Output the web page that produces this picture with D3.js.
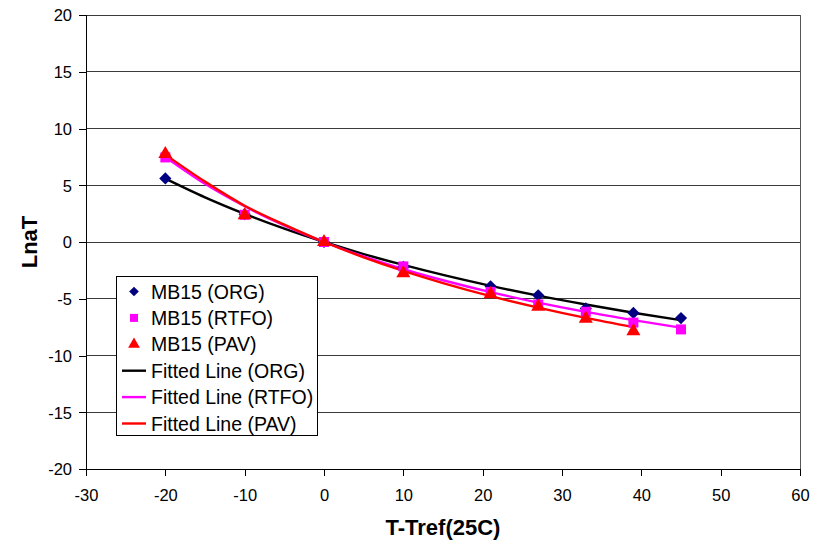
<!DOCTYPE html>
<html>
<head>
<meta charset="utf-8">
<script src="https://cdn.jsdelivr.net/npm/d3@7"></script>
<style>
  html, body { margin: 0; padding: 0; background: #fff; }
  svg { display: block; font-family: "Liberation Sans", Arial, sans-serif; }
</style>
</head>
<body>
<svg id="chart" width="826" height="547"></svg>
<script>
// Temperature offsets of the measured points (T - Tref, Tref = 25C)
const tempOffsets = [-20, -10, 0, 10, 21, 27, 33, 39, 45];
const orgValues  = [5.6, 2.45, 0, -2.2, -3.9, -4.7, -5.85, -6.25, -6.7];
const rtfoValues = [7.45, 2.4, 0, -2.15, -4.4, -5.5, -6.15, -7.1, -7.7];
const pavOffsets = [-20, -10, 0, 10, 21, 27, 33, 39];
const pavValues  = [7.75, 2.35, 0, -2.75, -4.6, -5.7, -6.75, -7.85];

// Fitted shift-factor curves, sampled along the temperature axis
const fitOffsets    = [-20, -15, -10, -5, 0, 5, 10, 15, 21, 27, 33, 39, 45];
const fitOrgValues  = [5.59, 3.94, 2.48, 1.17, 0, -1.06, -2.02, -2.90, -3.86, -4.73, -5.51, -6.23, -6.89];
const fitRtfoValues = [7.5, 5.13, 3.15, 1.46, 0, -1.27, -2.39, -3.37, -4.42, -5.34, -6.16, -6.88, -7.55];
const fitPavOffsets = [-20, -15, -10, -5, 0, 5, 10, 15, 21, 27, 33, 39];
const fitPavValues  = [7.7, 5.32, 3.2, 1.53, 0, -1.35, -2.55, -3.62, -4.77, -5.78, -6.69, -7.5];

const xTicks = [-30, -20, -10, 0, 10, 20, 30, 40, 50, 60];
const yTicks = [-20, -15, -10, -5, 0, 5, 10, 15, 20];

const legendLabels = ["MB15 (ORG)", "MB15 (RTFO)", "MB15 (PAV)",
                      "Fitted Line (ORG)", "Fitted Line (RTFO)", "Fitted Line (PAV)"];

const svg = d3.select("#chart");
const plot = { left: 86, right: 800, top: 15, bottom: 469 };

const x = d3.scaleLinear().domain([-30, 60]).range([plot.left, plot.right]);
const y = d3.scaleLinear().domain([-20, 20]).range([plot.bottom, plot.top]);

// Horizontal gridlines
svg.append("g")
  .selectAll("line")
  .data(yTicks.filter(v => v !== -20))
  .join("line")
  .attr("x1", plot.left).attr("x2", plot.right)
  .attr("y1", d => y(d)).attr("y2", d => y(d))
  .attr("stroke", "#3a3a3a").attr("stroke-width", 1)
  .attr("shape-rendering", "crispEdges");

// Right plot border
svg.append("line")
  .attr("x1", plot.right).attr("x2", plot.right)
  .attr("y1", plot.top).attr("y2", plot.bottom)
  .attr("stroke", "#555").attr("shape-rendering", "crispEdges");

// Axes (plain hyphen for negative numbers)
const fmt = d => String(d);
const xAxis = svg.append("g")
  .attr("transform", `translate(0,${plot.bottom})`)
  .call(d3.axisBottom(x).tickValues(xTicks).tickSize(7).tickPadding(13).tickFormat(fmt));
const yAxis = svg.append("g")
  .attr("transform", `translate(${plot.left},0)`)
  .call(d3.axisLeft(y).tickValues(yTicks).tickSize(7).tickPadding(7).tickFormat(fmt));

[xAxis, yAxis].forEach(g => {
  g.select(".domain").attr("stroke", "#000").attr("shape-rendering", "crispEdges");
  g.selectAll(".tick line").attr("stroke", "#000").attr("shape-rendering", "crispEdges");
  g.selectAll(".tick text")
    .attr("fill", "#000")
    .style("font-family", "'Liberation Sans', Arial, sans-serif")
    .style("font-size", "16.5px");
});
yAxis.selectAll(".tick text").attr("dy", "0.35em");

// Axis titles
svg.append("text")
  .attr("x", x(15)).attr("y", 535)
  .attr("text-anchor", "middle")
  .style("font-size", "22px").style("font-weight", "bold")
  .text("T-Tref(25C)");
svg.append("text")
  .attr("transform", `translate(37,${y(0)}) rotate(-90)`)
  .attr("text-anchor", "middle")
  .style("font-size", "22px").style("font-weight", "bold")
  .text("LnaT");

// Fitted lines
const line = d3.line().curve(d3.curveMonotoneX).x(d => x(d[0])).y(d => y(d[1]));
const fits = [
  { xs: fitOffsets, ys: fitOrgValues, color: "#000000" },
  { xs: fitOffsets, ys: fitRtfoValues, color: "#ff00ff" },
  { xs: fitPavOffsets, ys: fitPavValues, color: "#ff0000" }
];
svg.append("g").selectAll("path")
  .data(fits)
  .join("path")
  .attr("d", f => line(f.xs.map((v, i) => [v, f.ys[i]])))
  .attr("fill", "none")
  .attr("stroke", f => f.color)
  .attr("stroke-width", 2.4);

// Measured points
const series = [
  { xs: tempOffsets, ys: orgValues, color: "#000080", symbol: d3.symbolDiamond2, size: 95, legendSize: 60 },
  { xs: tempOffsets, ys: rtfoValues, color: "#ff00ff", symbol: d3.symbolSquare, size: 100, legendSize: 64 },
  { xs: pavOffsets, ys: pavValues, color: "#ff0000", symbol: d3.symbolTriangle, size: 85, legendSize: 60 }
];
series.forEach(s => {
  const sym = d3.symbol().type(s.symbol).size(s.size);
  svg.append("g").selectAll("path")
    .data(s.xs.map((v, i) => [v, s.ys[i]]))
    .join("path")
    .attr("transform", d => `translate(${x(d[0])},${y(d[1])})`)
    .attr("d", sym)
    .attr("fill", s.color);
});

// Legend
const legend = svg.append("g");
legend.append("rect")
  .attr("x", 116.5).attr("y", 276.5)
  .attr("width", 201).attr("height", 159)
  .attr("fill", "#fff").attr("stroke", "#000").attr("stroke-width", 1);

const rowY = i => 291.5 + i * 26.4;
legendLabels.forEach((label, i) => {
  const cy = rowY(i);
  if (i < 3) {
    const s = series[i];
    legend.append("path")
      .attr("transform", `translate(134,${cy})`)
      .attr("d", d3.symbol().type(s.symbol).size(s.legendSize)())
      .attr("fill", s.color);
  } else {
    legend.append("line")
      .attr("x1", 122).attr("x2", 146)
      .attr("y1", cy).attr("y2", cy)
      .attr("stroke", fits[i - 3].color).attr("stroke-width", 2.4);
  }
  legend.append("text")
    .attr("x", 151).attr("y", cy).attr("dy", "0.36em")
    .style("font-size", "19.5px")
    .attr("fill", "#000")
    .text(label);
});
</script>
</body>
</html>
